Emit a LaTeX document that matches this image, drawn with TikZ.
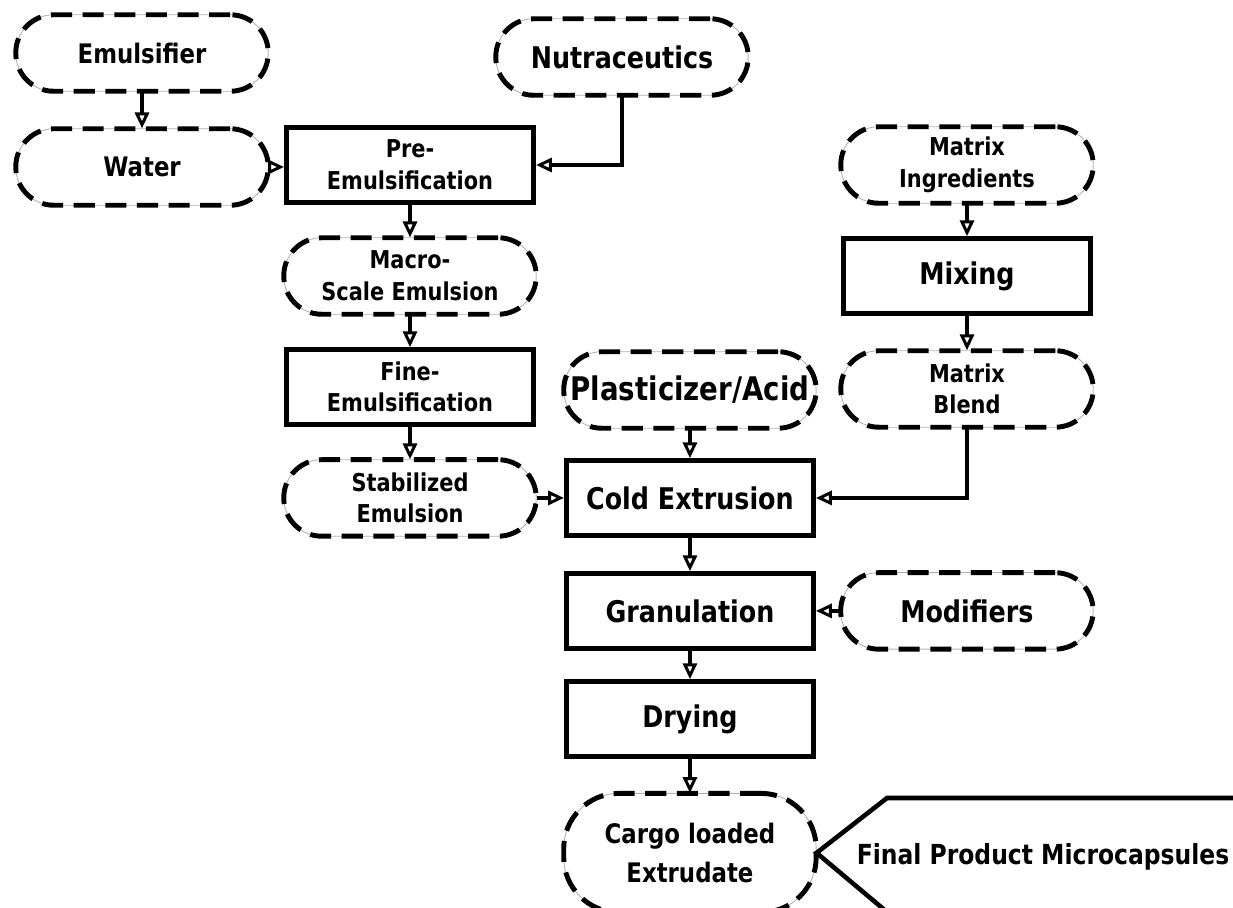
\documentclass[tikz,border=0pt]{standalone}
\usepackage{fontspec}
\setmainfont{DejaVu Sans}[FakeStretch=0.85]
\usepackage{tikz}
\usetikzlibrary{arrows.meta,positioning}
\tikzstyle{process} = [rectangle, minimum width=4.95cm, minimum height=1.5cm, inner sep=0pt, align=center, draw=black, line width=2.6pt, font=\bfseries\fontsize{17}{21}\selectfont]
\tikzstyle{feed} = [rectangle, rounded corners=0.76cm, minimum width=5.05cm, minimum height=1.53cm, inner sep=0pt, align=center, draw=black!30, line width=0.5pt, postaction={draw=black, line width=2.8pt, dash pattern=on 12pt off 6pt}, font=\bfseries\fontsize{15.3}{19}\selectfont]
\tikzstyle{small} = [font=\bfseries\fontsize{14}{18}\selectfont]
\tikzstyle{arrow} = [line width=2pt, -{Triangle[open, length=9pt, width=8pt, line width=1.7pt]}]

\begin{document}
\begin{tikzpicture}[x=0.02cm, y=-0.02cm, node distance=2.22cm]
\useasboundingbox (0,0) rectangle (1233,907);
\clip (0,0) rectangle (1233,907);
\node (emulsifier) [feed] at (142,53) {Emulsifier};
\node (water) [feed, below of=emulsifier, node distance=2.28cm] {Water};
\node (preemul) [process, small] at (410,165) {Pre-\\Emulsification};
\node (macro) [feed, small, below of=preemul] {Macro-\\Scale Emulsion};
\node (fineemul) [process, small, below of=macro] {Fine-\\Emulsification};
\node (stab) [feed, small, below of=fineemul] {Stabilized\\Emulsion};
\node (nutra) [feed, font=\bfseries\fontsize{17}{21}\selectfont] at (622,57) {Nutraceutics};
\node (cold) [process, right of=stab, node distance=5.6cm] {Cold Extrusion};
\node (plast) [feed, above of=cold, node distance=2.16cm, font=\bfseries\fontsize{18.5}{22}\selectfont] {Plasticizer/Acid};
\node (gran) [process, below of=cold, node distance=2.26cm] {Granulation};
\node (drying) [process, below of=gran, node distance=2.16cm] {Drying};
\node (cargo) [feed, below of=drying, node distance=2.68cm, minimum height=2.38cm, rounded corners=1.1cm, font=\bfseries\fontsize{15.3}{22}\selectfont] {Cargo loaded\\Extrudate};
\node (matrixing) [feed, small] at (967,165) {Matrix\\Ingredients};
\node (mixing) [process, below of=matrixing] {Mixing};
\node (matrixblend) [feed, small, below of=mixing, node distance=2.26cm] {Matrix\\Blend};
\node (modifiers) [feed, right of=gran, node distance=5.54cm, font=\bfseries\fontsize{17}{21}\selectfont] {Modifiers};
\node (final) [font=\bfseries\fontsize{15.7}{19}\selectfont] at (1043,857) {Final Product Microcapsules};
\coordinate (calltop) at (887,798);
\coordinate (calltopend) at (1250,798);
\coordinate (callbot) at (887,912);
\coordinate (callbotend) at (1250,912);
\draw [arrow] (emulsifier) -- (water);
\draw [arrow] (water) -- (water -| preemul.west);
\draw [arrow] (nutra) |- (preemul);
\draw [arrow] (preemul) -- (macro);
\draw [arrow] (macro) -- (fineemul);
\draw [arrow] (fineemul) -- (stab);
\draw [arrow] (stab) -- (cold);
\draw [arrow] (plast) -- (cold);
\draw [arrow] (matrixing) -- (mixing);
\draw [arrow] (mixing) -- (matrixblend);
\draw [arrow] (matrixblend) |- (cold);
\draw [arrow] (cold) -- (gran);
\draw [arrow] (modifiers) -- (gran);
\draw [arrow] (gran) -- (drying);
\draw [arrow] (drying) -- (cargo);
\draw [line width=2.6pt] (calltopend) -- (calltop) -- (cargo.east) -- (callbot) -- (callbotend);
\end{tikzpicture}
\end{document}
